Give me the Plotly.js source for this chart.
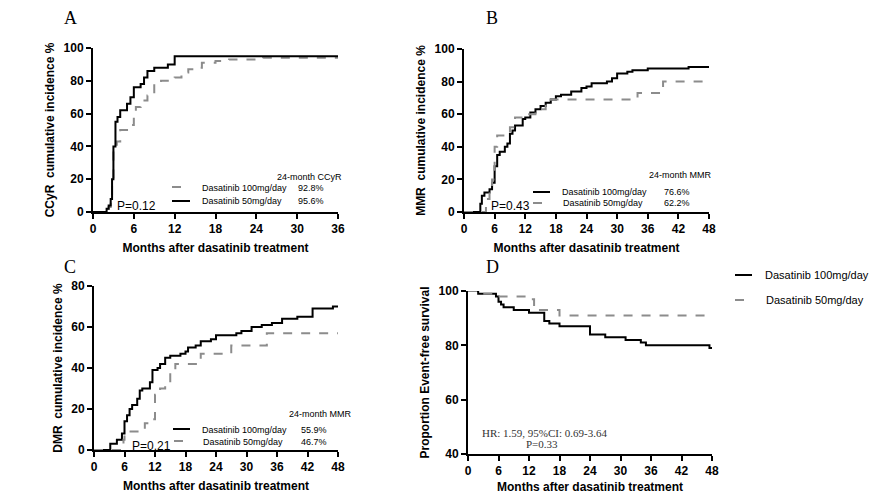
<!DOCTYPE html>
<html>
<head>
<meta charset="utf-8">
<script src="https://cdn.plot.ly/plotly-3.0.1.min.js"></script>
<style>body{margin:0;background:#fff}</style>
</head>
<body>
<div id="chart" style="width:877px;height:494px"></div>
<script>
// Panel A: CCyR
const aHiX = [0,1,2,2.3,2.6,2.8,3,3.5,4,5,6,6.3,7,8,9,10,12,13,14,15,16,18,20,25,36];
const aHiY = [0,0,1,3,8,20,40,43,50,53,60,64,68,71,78,80,82,85,87,88,91,92,93,94,94];
const aLoX = [0,1.5,2,2.3,2.6,2.8,3,3.3,3.6,4,5,5.5,6,7,7.5,8,9,11,12,36];
const aLoY = [0,0,2,4,8,20,40,55,58,62,66,70,76,78,82,86,88,90,95,95];
// Panel B: MMR
const bHiX = [0,3,3.2,3.5,4,5,5.5,6,6.5,7,8,8.5,9,9.5,10,11.5,12,13,14,15,16,17,18,19,21,23,24,25,28,29,30,32,33,36,44,48];
const bHiY = [0,0,5,10,12,14,18,28,35,37,40,42,48,50,53,57,58,61,63,65,67,69,71,72,74,76,77,79,80,82,85,86,87,88,89,89];
const bLoX = [0,4,4.3,5,5.5,6,6.5,9,10,12,14,16,17,34,39,48];
const bLoY = [0,0,8,12,20,40,47,52,58,60,63,68,69,73,80,80];
// Panel C: DMR
const cHiX = [0,3,3.2,4.5,5.5,6,6.5,7,7.5,8.5,9,9.5,11,11.5,12.5,13,14,15,17,18,18.5,20,21,23,24,28,29,31,33,35,37,40,43,47,48];
const cHiY = [0,0,3,5,8,14,17,20,22,25,29,30,33,39,40,42,45,46,47,48,50,51,53,54,56,57,58,60,61,62,64,65,69,70,70];
const cLoX = [0,5,5.8,6,9,10,11,12,13,14,15,16,21,27,34,48];
const cLoY = [0,0,5,9,10,13,15,27,30,33,38,42,47,51,57,57];
// Panel D: EFS
const dHiX = [0,2,5.5,6,6.5,7,9,12,15,16,18,24,27,31,34,35,47.5,48];
const dHiY = [100,99,98,96,95,94,93,92,89,88,87,84,83,82,81,80,79,79];
const dLoX = [0,3,5,12,13,18,48];
const dLoY = [100,99,98,97,93,91,91];

const hiName = 'Dasatinib 100mg/day', loName = 'Dasatinib 50mg/day';
const F = 'Liberation Sans, Arial, sans-serif';
const solid = {color:'#000', width:2, shape:'hv'};
const dash = {color:'#8c8c8c', width:2, shape:'hv', dash:'dash'};

function tr(x, y, line, ax){
  return {x:x, y:y, mode:'lines', line:line, xaxis:'x'+ax, yaxis:'y'+ax, showlegend:false, hoverinfo:'skip'};
}
const data = [
  tr(aHiX,aHiY,dash,''), tr(aLoX,aLoY,solid,''),
  tr(bHiX,bHiY,solid,'2'), tr(bLoX,bLoY,dash,'2'),
  tr(cHiX,cHiY,solid,'3'), tr(cLoX,cLoY,dash,'3'),
  tr(dHiX,dHiY,solid,'4'), tr(dLoX,dLoY,dash,'4')
];

function xa(dom, max, anchor, title){
  return {domain:dom, range:[0,max], tickvals:[0,6,12,18,24,30,36,42,48].filter(v=>v<=max),
    showline:true, linecolor:'#000', linewidth:2, ticks:'outside', ticklen:5, tickwidth:2, tickcolor:'#000',
    showgrid:false, zeroline:false, anchor:anchor, tickfont:{family:F, size:12, color:'#000', weight:'bold'},
    title:{text:title, font:{family:F, size:12, color:'#000', weight:'bold'}, standoff:8}};
}
function ya(dom, min, max, dt, anchor, title){
  return {domain:dom, range:[min,max], dtick:dt,
    showline:true, linecolor:'#000', linewidth:2, ticks:'outside', ticklen:5, tickwidth:2, tickcolor:'#000',
    showgrid:false, zeroline:false, anchor:anchor, tickfont:{family:F, size:12, color:'#000', weight:'bold'},
    title:{text:title, font:{family:F, size:12, color:'#000', weight:'bold'}, standoff:6}};
}
const T = 'Months after dasatinib treatment';
const px = v => v/877, py = v => 1 - v/494;

function txt(x, y, t, opt){
  return Object.assign({xref:'paper', yref:'paper', x:px(x), y:py(y), text:t, showarrow:false,
    xanchor:'left', yanchor:'middle', font:{family:F, size:9, color:'#000'}}, opt||{});
}
function seg(x0, x1, y, line){
  return {type:'line', xref:'paper', yref:'paper', x0:px(x0), x1:px(x1), y0:py(y), y1:py(y),
    line:{color:line.color, width:2, dash:line.dash||'solid'}};
}
const serif = {family:'Liberation Serif, Times New Roman, serif', size:18, color:'#000'};

const annotations = [
  txt(62,18,'A',{font:serif}), txt(484,18,'B',{font:serif}),
  txt(62,267,'C',{font:serif}), txt(484,267,'D',{font:serif}),
  txt(275,177,'24-month CCyR'), txt(200,188,hiName), txt(296,188,'92.8%'),
  txt(200,201,loName), txt(296,201,'95.6%'),
  txt(115,206,'P=0.12',{font:{family:F,size:12,color:'#000'}}),
  txt(647,175,'24-month MMR'), txt(560,192,hiName), txt(662,192,'76.6%'),
  txt(561,203,loName), txt(662,203,'62.2%'),
  txt(489,206,'P=0.43',{font:{family:F,size:12,color:'#000'}}),
  txt(287,414,'24-month MMR'), txt(200,430,hiName), txt(299,430,'55.9%'),
  txt(201,442,loName), txt(299,442,'46.7%'),
  txt(130,446,'P=0.21',{font:{family:F,size:12,color:'#000'}}),
  txt(763,275,hiName,{font:{family:F,size:11,color:'#000'}}),
  txt(764,300,loName,{font:{family:F,size:11,color:'#000'}}),
  txt(480,433,'HR: 1.59, 95%CI: 0.69-3.64',{font:{family:'Liberation Serif, serif',size:11,color:'#333'}}),
  txt(524,444,'P=0.33',{font:{family:'Liberation Serif, serif',size:11,color:'#333'}})
];
const shapes = [
  seg(172,190,187,dash), seg(172,190,201,solid),
  seg(533,550,192,solid), seg(533,550,203,dash),
  seg(173,190,429,solid), seg(174,190,441,dash),
  seg(735,752,275,solid), seg(735,752,300,dash)
];

const layout = {
  width:877, height:494, margin:{l:0,r:0,t:0,b:0}, paper_bgcolor:'#fff', plot_bgcolor:'#fff',
  xaxis: xa([px(93),px(338)],36,'y',T), yaxis: ya([py(212),py(48)],0,100,20,'x','CCyR  cumulative incidence %'),
  xaxis2: xa([px(464),px(709)],48,'y2',T), yaxis2: ya([py(212),py(49)],0,100,20,'x2','MMR  cumulative incidence %'),
  xaxis3: xa([px(94),px(338)],48,'y3',T), yaxis3: ya([py(450),py(286)],0,80,20,'x3','DMR  cumulative incidence %'),
  xaxis4: xa([px(468),px(712)],48,'y4',T), yaxis4: ya([py(454),py(291)],40,100,20,'x4','Proportion Event-free survival'),
  annotations:annotations, shapes:shapes
};
Plotly.newPlot('chart', data, layout, {staticPlot:true});
</script>
</body>
</html>
